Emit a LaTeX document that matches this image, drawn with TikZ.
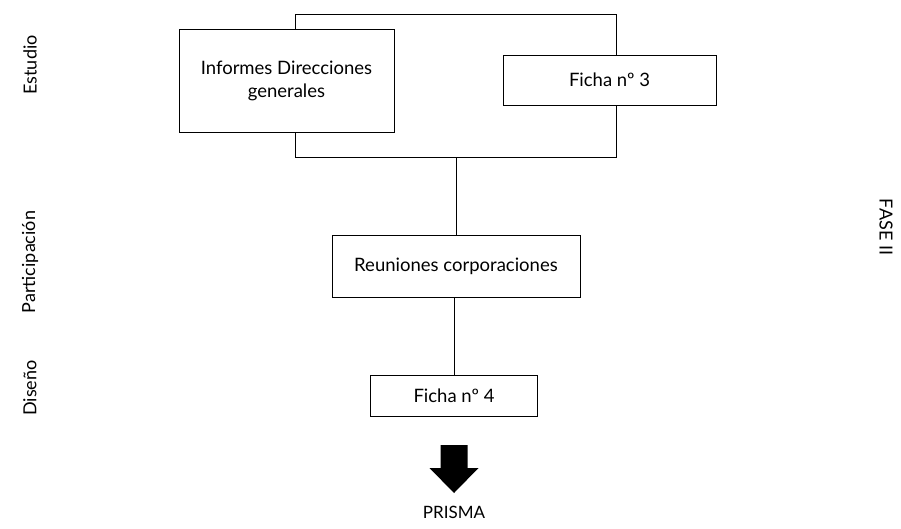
\documentclass[tikz,border=0pt]{standalone}
\usepackage{fontspec}
\setmainfont{Lato}
\begin{document}
\begin{tikzpicture}[x=1pt, y=-1pt, line width=1pt,
  caja/.style={draw, fill=white, align=center, inner sep=0pt,
    font=\fontsize{18.5}{23}\selectfont},
  fase/.style={rotate=90, font=\fontsize{18}{22}\selectfont}]
  \useasboundingbox (0,0) rectangle (901,528);
  % marco que agrupa el estudio
  \node[draw, minimum width=321pt, minimum height=143pt] (marco) at (455.5,85.5) {};
  \node[caja, minimum width=215pt, minimum height=103pt] (informes) at (286.5,80.5)
    {Informes Direcciones\\generales};
  \node[caja, minimum width=213pt, minimum height=50pt] (ficha3) at (609.5,80) {Ficha nº 3};
  \node[caja, minimum width=248pt, minimum height=62pt] (reuniones) at (456,266)
    {Reuniones corporaciones};
  \node[caja, minimum width=167pt, minimum height=41pt] (ficha4) at (454,395.5) {Ficha nº 4};
  \draw (marco.south -| reuniones.north) -- (reuniones.north);
  \draw (reuniones.south -| ficha4.north) -- (ficha4.north);
  % flecha gruesa
  \coordinate (flecha) at (454,445);
  \fill (flecha) ++(-13.5,0) -- ++(27,0) -- ++(0,23) -- ++(11,0)
    -- (454,493) -- ++(-24.5,-25) -- ++(11,0) -- cycle;
  \node[font=\fontsize{17}{21}\selectfont] (prisma) at (454,512) {PRISMA};
  % etiquetas laterales
  \node[fase] (estudio) at (30,65) {Estudio};
  \node[fase] (particip) at (30,262) {Participación};
  \node[fase] (diseno) at (30,388) {Diseño};
  \node[fase, rotate=180] (faseii) at (886,227) {FASE II};
\end{tikzpicture}
\end{document}
